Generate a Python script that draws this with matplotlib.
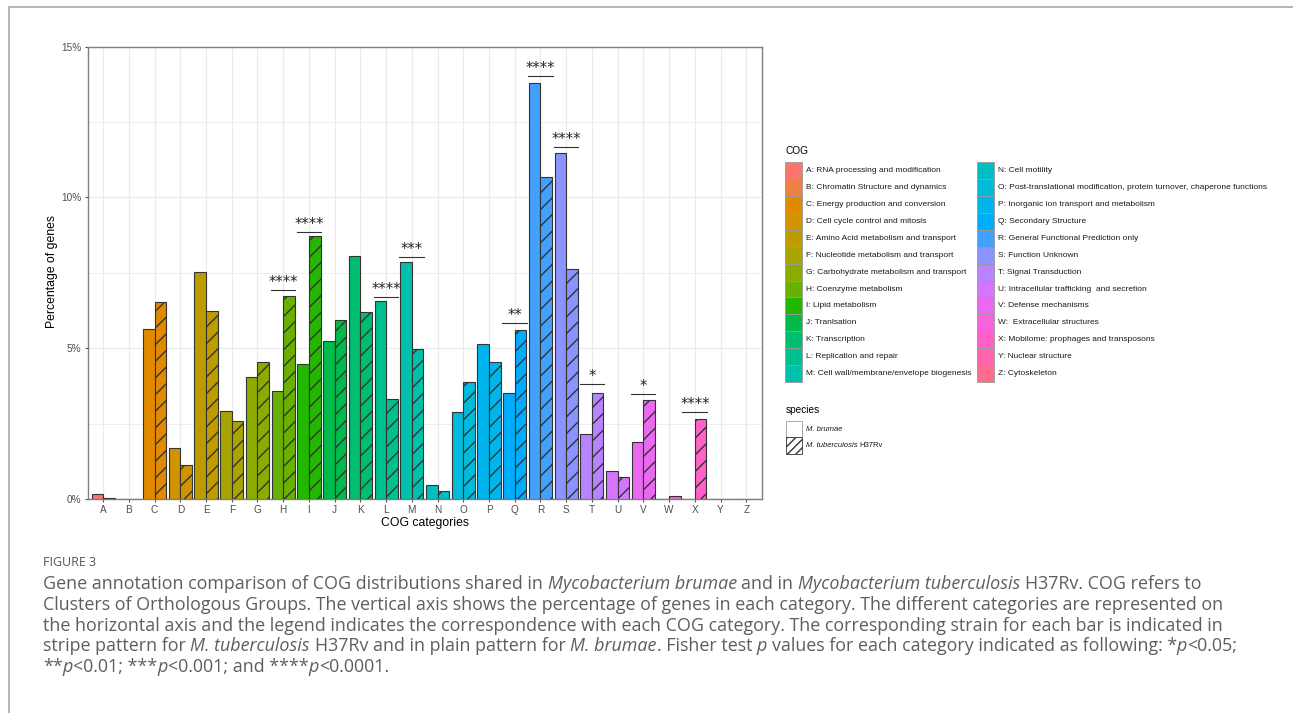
import numpy as np
import matplotlib
matplotlib.use("Agg")
import matplotlib.pyplot as plt
from matplotlib.patches import Rectangle
from matplotlib.lines import Line2D

# data (percent of genes)
cats = list("ABCDEFGHIJKLMNOPQRSTUVWXYZ")
brumae = [0.17, 0, 5.65, 1.68, 7.52, 2.93, 4.03, 3.58, 4.49, 5.24, 8.06, 6.56, 7.87,
          0.45, 2.87, 5.13, 3.50, 13.79, 11.46, 2.17, 0.92, 1.90, 0, 0, 0, 0]
tuberc = [0.02, 0, 6.52, 1.14, 6.25, 2.60, 4.55, 6.73, 8.73, 5.94, 6.19, 3.33, 4.96,
          0.28, 3.88, 4.55, 5.61, 10.68, 7.62, 3.50, 0.73, 3.28, 0.10, 2.66, 0, 0]

sig_cats = ["H", "I", "L", "M", "Q", "R", "S", "T", "V", "X"]
sig_labels = ["****", "****", "****", "***", "**", "****", "****", "*", "*", "****"]
sig_y = [6.92, 8.86, 6.71, 8.01, 5.83, 14.03, 11.69, 3.80, 3.49, 2.87]

cog_names = [
    "A: RNA processing and modification",
    "B: Chromatin Structure and dynamics",
    "C: Energy production and conversion",
    "D: Cell cycle control and mitosis",
    "E: Amino Acid metabolism and transport",
    "F: Nucleotide metabolism and transport",
    "G: Carbohydrate metabolism and transport",
    "H: Coenzyme metabolism",
    "I: Lipid metabolism",
    "J: Tranlsation",
    "K: Transcription",
    "L: Replication and repair",
    "M: Cell wall/membrane/envelope biogenesis",
    "N: Cell motility",
    "O: Post-translational modification, protein turnover, chaperone functions",
    "P: Inorganic ion transport and metabolism",
    "Q: Secondary Structure",
    "R: General Functional Prediction only",
    "S: Function Unknown",
    "T: Signal Transduction",
    "U: Intracellular trafficking  and secretion",
    "V: Defense mechanisms",
    "W:  Extracellular structures",
    "X: Mobilome: prophages and transposons",
    "Y: Nuclear structure",
    "Z: Cytoskeleton",
]

caption = [
    [("Gene annotation comparison of COG distributions shared in ", False),
     ("Mycobacterium brumae ", True), ("and in ", False),
     ("Mycobacterium tuberculosis ", True), ("H37Rv. COG refers to", False)],
    [("Clusters of Orthologous Groups. The vertical axis shows the percentage of genes in each category. The different categories are represented on", False)],
    [("the horizontal axis and the legend indicates the correspondence with each COG category. The corresponding strain for each bar is indicated in", False)],
    [("stripe pattern for ", False), ("M. tuberculosis ", True), ("H37Rv and in plain pattern for ", False),
     ("M. brumae", True), (". Fisher test ", False), ("p ", True),
     ("values for each category indicated as following: *", False), ("p", True), ("<0.05;", False)],
    [("**", False), ("p", True), ("<0.01; ***", False), ("p", True), ("<0.001; and ****", False),
     ("p", True), ("<0.0001.", False)],
]


def hue_pal(n):
    # ggplot2 default hue palette: hcl(h, c=100, l=65)
    hs = np.linspace(15, 375, n + 1)[:-1]
    Xn, Yn, Zn = 95.047, 100.0, 108.883
    un = 4 * Xn / (Xn + 15 * Yn + 3 * Zn)
    vn = 9 * Yn / (Xn + 15 * Yn + 3 * Zn)
    M = np.array([[3.2404542, -1.5371385, -0.4985314],
                  [-0.9692660, 1.8760108, 0.0415560],
                  [0.0556434, -0.2040259, 1.0572252]])
    out = []
    for h in hs:
        L, C = 65.0, 100.0
        u = C * np.cos(np.radians(h))
        v = C * np.sin(np.radians(h))
        Y = Yn * ((L + 16) / 116) ** 3
        up = u / (13 * L) + un
        vp = v / (13 * L) + vn
        X = 9 * Y * up / (4 * vp)
        Z = Y * (12 - 3 * up - 20 * vp) / (4 * vp)
        rgb = M @ (np.array([X, Y, Z]) / 100)
        rgb = np.clip(rgb, 0, None)
        rgb = np.where(rgb <= 0.0031308, 12.92 * rgb, 1.055 * rgb ** (1 / 2.4) - 0.055)
        out.append(tuple(np.clip(rgb, 0, 1)))
    return out


plt.rcParams["hatch.linewidth"] = 1.0
plt.rcParams["hatch.color"] = "black"
SANS = "Liberation Sans"

W, H = 1293, 713
fig = plt.figure(figsize=(W / 100, H / 100), dpi=100)
cols = hue_pal(len(cats))


def fx(px):
    return px / W


def fy(py):
    return 1 - py / H


# frame lines of the page
fig.add_artist(Line2D([fx(9), 1], [fy(7), fy(7)], color="#b0b0b0", lw=1.3))
fig.add_artist(Line2D([fx(9), fx(9)], [0, fy(7)], color="#b0b0b0", lw=1.3))

ax = fig.add_axes([fx(87.7), fy(499), 674 / W, 452.3 / H])
x = np.arange(len(cats))
bw = 0.45
ax.bar(x - bw / 2, brumae, bw, color=cols, edgecolor="#333333", lw=0.8, zorder=3)
ax.bar(x + bw / 2, tuberc, bw, color=cols, edgecolor="#333333", lw=0.8, hatch="//", zorder=3)

ax.set_xlim(-0.6, 25.6)
ax.set_ylim(0, 15)
ax.set_xticks(x)
ax.set_xticklabels(cats)
ax.set_yticks([0, 5, 10, 15])
ax.set_yticklabels(["0%", "5%", "10%", "15%"])
ax.set_yticks([2.5, 7.5, 12.5], minor=True)
ax.grid(which="major", color="#ebebeb", lw=0.9)
ax.grid(which="minor", axis="y", color="#ebebeb", lw=0.6)
ax.set_axisbelow(True)
for s in ax.spines.values():
    s.set_color("#7f7f7f")
    s.set_linewidth(1.0)
ax.tick_params(which="major", length=2.5, width=0.8, color="#555555", pad=2,
               labelsize=7.2, labelcolor="#4d4d4d")
ax.tick_params(which="minor", length=0)
for lab in ax.get_xticklabels() + ax.get_yticklabels():
    lab.set_family(SANS)

# significance brackets
for c, lab, yv in zip(sig_cats, sig_labels, sig_y):
    i = cats.index(c)
    ax.plot([i - 0.48, i + 0.47], [yv, yv], color="#333333", lw=0.8, zorder=4)
    ax.text(i, yv, lab, ha="center", va="bottom", fontsize=10.5, family="DejaVu Sans",
            color="#222222", zorder=4)

fig.text(fx(424.7), fy(523), "COG categories", ha="center", va="center",
         fontsize=8.8, family=SANS)
fig.text(fx(52), fy(272), "Percentage of genes", ha="center", va="center",
         rotation=90, fontsize=8.8, family=SANS)

# legend: COG
fig.text(fx(785), fy(151.5), "COG", ha="left", va="center", fontsize=7.3, family=SANS)
row_h = 16.9
for k, name in enumerate(cog_names):
    col, row = divmod(k, 13)
    kx = 785 if col == 0 else 977.3
    tx = 805.7 if col == 0 else 998.5
    top = 162.3 + row * row_h
    fig.add_artist(Rectangle((fx(kx), fy(top + row_h)), 16.5 / W, row_h / H,
                             transform=fig.transFigure, facecolor=cols[k],
                             edgecolor="#9a9a9a", lw=0.6))
    fig.text(fx(tx), fy(top + row_h / 2), name, ha="left", va="center",
             fontsize=6.0, family=SANS, color="#1a1a1a")

renderer = fig.canvas.get_renderer()


def advance(txt, **kw):
    a = fig.text(0, 0, "|" + txt + "|", **kw)
    b = fig.text(0, 0, "||", **kw)
    w = a.get_window_extent(renderer).width - b.get_window_extent(renderer).width
    a.remove()
    b.remove()
    return w


def draw_runs(x0, y0, runs, **kw):
    xp = x0
    for txt, ital in runs:
        st = "italic" if ital else "normal"
        fig.text(fx(xp), fy(y0), txt, ha="left", va="baseline", fontstyle=st, **kw)
        xp += advance(txt, fontstyle=st, **kw)


# legend: species
fig.text(fx(786), fy(410), "species", ha="left", va="center", fontsize=7.3, family=SANS)
fig.add_artist(Rectangle((fx(785.7), fy(437.3)), 16.5 / W, 16.3 / H,
                         transform=fig.transFigure, facecolor="white",
                         edgecolor="#9a9a9a", lw=0.6))
fig.add_artist(Rectangle((fx(785.7), fy(453.6)), 16.5 / W, 16.3 / H,
                         transform=fig.transFigure, facecolor="white",
                         edgecolor="#333333", lw=0.6, hatch="////"))
draw_runs(805.7, 431, [("M. brumae", True)], fontsize=5.5, family=SANS, color="#1a1a1a")
draw_runs(805.7, 447.3, [("M. tuberculosis ", True), ("H37Rv", False)],
          fontsize=5.5, family=SANS, color="#1a1a1a")

# caption
fig.text(fx(43), fy(562), "FIGURE 3", ha="left", va="center", fontsize=9,
         family="Open Sans", color="#555555")
for j, line in enumerate(caption):
    draw_runs(43, 589 + j * 20.8, line, fontsize=12.9, family="Open Sans", color="#5e5e5e")

fig.savefig("out.png", dpi=100)
